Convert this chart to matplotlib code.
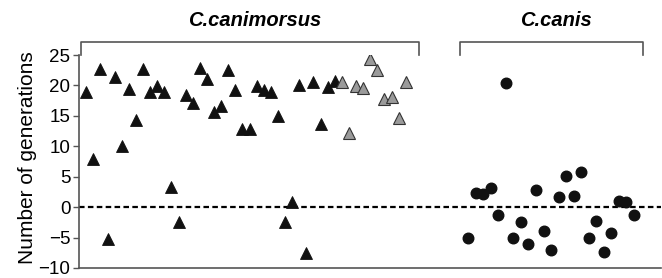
import numpy as np
import matplotlib
matplotlib.use("Agg")
import matplotlib.pyplot as plt
from matplotlib.transforms import blended_transform_factory

plt.rcParams["font.family"] = ["Liberation Sans", "DejaVu Sans"]

# generations per strain
canimorsus_black = [19.0, 7.9, 22.7, -5.2, 21.4, 10.1, 19.5, 14.4, 22.7, 19.0,
                    19.9, 19.0, 3.3, -2.4, 18.5, 17.2, 22.9, 21.0, 15.6, 16.6,
                    22.6, 19.3, 12.8, 12.8, 19.9, 19.2, 19.0, 15.0, -2.4, 0.8,
                    20.0, -7.5, 20.6, 13.6, 19.8, 20.7]
canimorsus_grey = [20.5, 12.2, 19.9, 19.6, 24.4, 22.5, 17.7, 18.1, 14.6, 20.6]
canis = [-5.0, 2.3, 2.1, 3.1, -1.3, 20.4, -5.1, -2.4, -6.0, 2.8, -3.9, -7.0,
         1.6, 5.2, 1.9, 5.7, -5.0, -2.2, -7.4, -4.3, 1.0, 0.8, -1.3]
groups = ["C.canimorsus", "C.canis"]

AXIS = "#555555"

fig = plt.figure(figsize=(6.62, 2.78), dpi=100)
ax = fig.add_axes([0.119, 0.036, 0.879, 0.766])

n_tri = len(canimorsus_black) + len(canimorsus_grey)
tri_x = np.arange(n_tri)
circ_x = 53.8 + np.arange(len(canis)) * 1.06

nb = len(canimorsus_black)
ax.plot(tri_x[:nb], canimorsus_black, ls="none", marker="^", ms=8.2,
        mfc="#111111", mec="#111111", mew=0.6, zorder=3)
ax.plot(tri_x[nb:], canimorsus_grey, ls="none", marker="^", ms=8.2,
        mfc="#9a9a9a", mec="#333333", mew=0.8, zorder=3)
ax.plot(circ_x, canis, ls="none", marker="o", ms=7.6,
        mfc="#111111", mec="#111111", zorder=3)

ax.axhline(0, color="black", ls=(0, (2.5, 1.5)), lw=1.6, zorder=2)

ax.set_xlim(-1.05, 80.9)
ax.set_ylim(-10, 25)
ax.set_yticks(np.arange(-10, 26, 5))
ax.set_yticklabels([str(v).replace("-", "\u2212") for v in range(-10, 26, 5)])
ax.set_xticks([])
ax.tick_params(axis="y", direction="out", length=4, width=1, color=AXIS,
               labelsize=13.5, pad=2)
ax.set_ylabel("Number of generations", fontsize=15)
ax.yaxis.set_label_coords(-0.072, 0.52)
for s in ["top", "right"]:
    ax.spines[s].set_visible(False)
for s in ["left", "bottom"]:
    ax.spines[s].set_color(AXIS)
    ax.spines[s].set_linewidth(1.2)

# group brackets above the plot
tr = blended_transform_factory(ax.transData, ax.transAxes)
brackets = [(-0.8, 46.9), (52.6, 78.4)]
for (x0, x1), name in zip(brackets, groups):
    ax.plot([x0, x0, x1, x1], [1.0, 1.06, 1.06, 1.0], color=AXIS, lw=1.2,
            transform=tr, clip_on=False)
    ax.text((x0 + x1) / 2 + 0.6, 1.16, name, transform=tr, ha="center",
            va="center", fontsize=14.5, fontweight="bold", fontstyle="italic")

fig.savefig("out.png", dpi=100)
